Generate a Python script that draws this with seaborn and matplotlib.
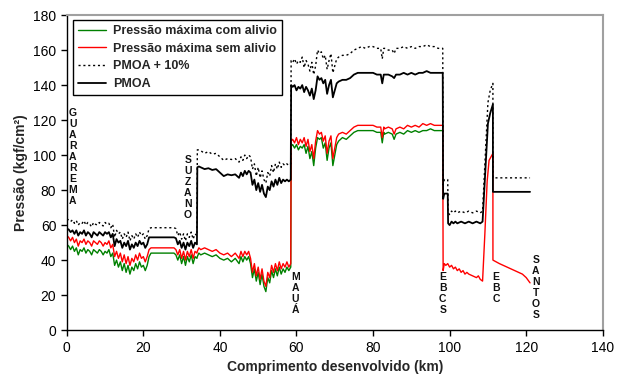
import numpy as np
import pandas as pd
import matplotlib
matplotlib.use('Agg')
import matplotlib.pyplot as plt
import seaborn as sns

# Pontos ao longo do duto (km) - trecho comum às quatro séries
km_main = ([0, 0.5, 1, 1.5, 2, 2.5, 3, 3.5, 4, 4.5, 5, 5.5, 6, 6.5, 7, 7.5, 8, 8.5, 9, 9.5,
            10, 10.5, 11, 11.5, 12, 12.5, 13, 13.5, 14, 14.5, 15, 15.5, 16, 16.5, 17, 17.5,
            18, 18.5, 19, 19.5, 20, 20.5, 21, 21.5]
           + [22, 25, 28]
           + [28.5, 29, 29.5, 30, 30.5, 31, 31.5, 32, 32.5, 33, 33.5, 34]
           + [34.1]
           + [34.5, 35, 36, 37, 38, 39, 40, 41, 42, 43, 44, 45]
           + [45.5, 46, 46.5, 47, 47.5, 48, 48.5, 49, 49.5, 50, 50.5, 51, 51.5, 52, 52.5,
              53, 53.5, 54, 54.5, 55, 55.5, 56, 56.5, 57, 57.5, 58, 58.5]
           + [58.6]
           + [59, 59.5, 60, 60.5, 61, 61.5, 62, 62.5, 63, 63.5, 64, 64.5, 65, 65.5, 66,
              66.5, 67, 67.5, 68, 68.5, 69, 69.5, 70, 70.5, 71]
           + [72, 73, 74, 75, 76, 77, 78, 79, 80, 81, 82]
           + [82.4, 82.8]
           + [83, 84, 85, 85.5]
           + [86, 87, 88, 89, 90, 91, 92, 93, 94, 95, 96, 97]
           + [98.2])

pmoa_main = ([58, 57.5, 56, 57, 55, 57, 54, 56, 55, 57, 54, 56, 55, 53, 56, 55, 54, 56, 55, 54,
              56, 55, 56, 53, 55, 48, 52, 50, 51, 47, 50, 48, 51, 46, 49, 47, 50, 48, 51, 49,
              50, 47, 49, 53]
             + [53, 53, 53]
             + [52.5, 49, 51, 47, 50, 46, 50, 48, 51, 47, 50, 49]
             + [93]
             + [93.5, 93, 92, 92.5, 91.5, 92, 90, 88, 89, 88.5, 89, 87]
             + [90, 88, 91, 89, 91, 90, 83, 86, 80, 84, 79, 83, 78, 76, 82, 80, 85, 82, 86,
                83, 87, 84, 86, 85, 86, 85, 86]
             + [140]
             + [139, 140, 137, 139, 138, 140, 136, 139, 137, 134, 138, 132, 137, 145, 143,
                144, 141, 143, 135, 140, 143, 133, 137, 141, 142]
             + [143, 143, 144, 146, 147, 147, 147, 147, 147, 146, 146]
             + [141, 146]
             + [146, 146, 145, 144]
             + [146, 146, 147, 146, 147, 146, 147, 147, 148, 147, 147, 147]
             + [147])

pmoa10_main = ([63.5, 63, 62, 63, 61, 62.5, 60, 61.5, 61, 62.5, 60, 61.5, 60.5, 59, 61.5, 60.5,
                60, 61.5, 60.5, 59.5, 61.5, 60.5, 61, 58.5, 60.5, 53, 57, 55, 56, 52, 55, 53,
                56, 51, 54, 52, 55, 53, 56, 54, 55, 52, 54, 58]
               + [58.5, 58.5, 58.5]
               + [58, 54, 56, 52, 55, 51, 55, 53, 56, 52, 55, 54]
               + [103]
               + [103, 102.5, 101, 102, 100.5, 101, 99, 97, 98, 97.5, 98, 96]
               + [99, 97, 100, 98, 100, 99, 92, 95, 88, 93, 87, 91, 86, 84, 90, 88, 94, 90,
                  95, 92, 96, 93, 95, 94, 95, 94, 95]
               + [154]
               + [153, 155, 152, 154, 153, 156, 150, 154, 152, 148, 153, 146, 151, 160, 158,
                  159, 155, 157, 149, 154, 158, 147, 151, 155, 156]
               + [157, 157, 158, 160, 161, 162, 161, 162, 162, 161, 161]
               + [155, 161]
               + [161, 160, 160, 158]
               + [161, 161, 162, 161, 162, 161, 162, 162, 163, 162, 162, 161]
               + [161])

sem_alivio_main = ([54, 53, 51, 53, 50, 52, 48, 51, 50, 52, 49, 51, 50, 48, 51, 50, 49, 51, 50,
                    48, 50, 49, 51, 47, 49, 42, 45, 41, 44, 39, 43, 38, 42, 37, 41, 39, 43, 40,
                    44, 41, 42, 39, 42, 46]
                   + [47, 47, 47]
                   + [46, 43, 46, 41, 45, 40, 45, 42, 46, 41, 45, 44]
                   + [45]
                   + [47, 46, 47, 46, 45, 46, 44, 43, 44, 42, 44, 41]
                   + [45, 42, 45, 43, 45, 41, 33, 38, 31, 36, 29, 35, 28, 25, 33, 30, 37, 33,
                      38, 34, 39, 35, 38, 36, 39, 36, 38]
                   + [108]
                   + [109, 107, 110, 106, 109, 107, 110, 105, 109, 102, 106, 98, 108, 114, 112,
                      113, 108, 111, 101, 108, 111, 98, 104, 110, 112]
                   + [113, 112, 114, 116, 117, 117, 117, 117, 117, 116, 116]
                   + [110, 116]
                   + [115, 116, 115, 112]
                   + [115, 116, 115, 117, 116, 117, 116, 118, 117, 118, 117, 117]
                   + [117])

com_alivio = ([49, 48, 46, 48, 45, 47, 43, 46, 45, 47, 44, 46, 45, 43, 46, 45, 44, 46, 45, 43,
               45, 44, 46, 42, 44, 37, 40, 36, 39, 34, 38, 33, 37, 32, 36, 34, 38, 35, 39, 36,
               37, 34, 37, 42]
              + [44, 44, 44]
              + [43, 40, 43, 38, 42, 37, 42, 39, 43, 38, 42, 41]
              + [42]
              + [44, 43, 44, 43, 42, 43, 41, 40, 41, 39, 41, 38]
              + [42, 39, 42, 40, 42, 38, 30, 35, 28, 33, 26, 32, 25, 22, 30, 27, 34, 30, 35,
                 31, 36, 32, 35, 33, 36, 34, 36]
              + [105]
              + [106, 104, 106, 103, 105, 104, 106, 101, 105, 98, 102, 94, 104, 110, 109, 110,
                 104, 107, 97, 104, 107, 94, 100, 106, 108]
              + [110, 109, 111, 113, 114, 114, 114, 114, 114, 113, 113]
              + [107, 113]
              + [112, 113, 112, 109]
              + [112, 113, 112, 114, 113, 114, 113, 114, 114, 115, 114, 114]
              + [114])

# Trecho final (EBCS - EBC - Santos)
km_right = [98.3, 98.6, 99.5, 99.6, 100, 100.5, 101, 101.5, 102, 103, 104, 105, 106, 107, 108,
            108.6, 109.3, 110, 110.6, 111.3, 111.31, 121]
pmoa_right = [75, 78, 78, 61, 60, 62, 61, 62, 61, 62, 61, 62, 61, 62, 61, 62, 90, 118, 124, 129,
              79, 79]
pmoa10_right = [83, 86, 86, 67, 66, 68, 67, 68, 67, 68, 67, 68, 67, 68, 67, 68, 99, 130, 137,
                141, 87, 87]

km_red_right = [98.3, 98.6, 99, 99.5, 100, 100.5, 101, 101.5, 102, 102.5, 103, 103.5, 104, 104.5,
                105, 106, 107, 107.5, 108, 108.6, 109.2, 109.8, 110.3, 111.3, 111.31, 113, 115,
                117, 119, 120, 121]
sem_alivio_right = [34, 38, 37, 38, 36, 37, 35, 36, 34, 35, 33, 34, 32, 33, 32, 31, 30, 31, 29,
                    28, 55, 85, 97, 101, 40, 38, 36, 34, 32, 30, 27]

# Estações (rótulos verticais)
estacoes = ['GUARAREMA', 'SUZANO', 'MAUÁ', 'EBCS', 'EBC', 'SANTOS']
estacoes_km = [1.6, 31.6, 59.7, 98.2, 112.1, 122.5]
estacoes_y = [127, 100, 33, 33, 33, 43]

sns.set_theme(style='white')
plt.rcParams['font.family'] = ['Liberation Sans', 'DejaVu Sans']

fig, ax = plt.subplots(figsize=(6.24, 3.87), dpi=100)
fig.subplots_adjust(left=0.107, right=0.966, bottom=0.147, top=0.961)

df_green = pd.DataFrame({'km': km_main, 'p': com_alivio})
df_red = pd.DataFrame({'km': km_main + km_red_right, 'p': sem_alivio_main + sem_alivio_right})
df_p10 = pd.DataFrame({'km': km_main + km_right, 'p': pmoa10_main + pmoa10_right})
df_pmoa = pd.DataFrame({'km': km_main + km_right, 'p': pmoa_main + pmoa_right})

sns.lineplot(data=df_green, x='km', y='p', estimator=None, sort=False, color='#008000',
             linewidth=1.0, label='Pressão máxima com alivio', ax=ax)
sns.lineplot(data=df_red, x='km', y='p', estimator=None, sort=False, color='#ff0000',
             linewidth=1.0, label='Pressão máxima sem alivio', ax=ax)
sns.lineplot(data=df_p10, x='km', y='p', estimator=None, sort=False, color='black',
             linewidth=1.0, linestyle=(0, (1.5, 2)), label='PMOA + 10%', ax=ax)
sns.lineplot(data=df_pmoa, x='km', y='p', estimator=None, sort=False, color='black',
             linewidth=1.3, label='PMOA', ax=ax)

for nome, xk, yk in zip(estacoes, estacoes_km, estacoes_y):
    ax.text(xk, yk, '\n'.join(nome), ha='center', va='top', fontsize=7.5,
            fontweight='bold', linespacing=1.12, color='#111111')

ax.set_xlim(0, 140)
ax.set_ylim(0, 180)
ax.set_xticks(range(0, 141, 20))
ax.set_yticks(range(0, 181, 20))
ax.tick_params(axis='both', which='major', direction='out', length=4, width=1,
               labelsize=10, left=True, bottom=True, colors='black')
ax.set_xlabel('Comprimento desenvolvido (km)', fontsize=10, fontweight='bold')
ax.set_ylabel('Pressão (kgf/cm²)', fontsize=10, fontweight='bold')

for s in ['left', 'bottom']:
    ax.spines[s].set_color('black')
    ax.spines[s].set_linewidth(1)
for s in ['top', 'right']:
    ax.spines[s].set_color('#a0a0a0')
    ax.spines[s].set_linewidth(1.5)

leg = ax.legend(loc='upper left', bbox_to_anchor=(0.011, 0.984), borderaxespad=0,
                frameon=True, fancybox=False, framealpha=1, edgecolor='black',
                prop={'weight': 'bold', 'size': 9}, handlelength=2.3,
                labelspacing=0.45, borderpad=0.4, handletextpad=0.5)
leg.get_frame().set_linewidth(1)

plt.savefig('out.png', dpi=100)
